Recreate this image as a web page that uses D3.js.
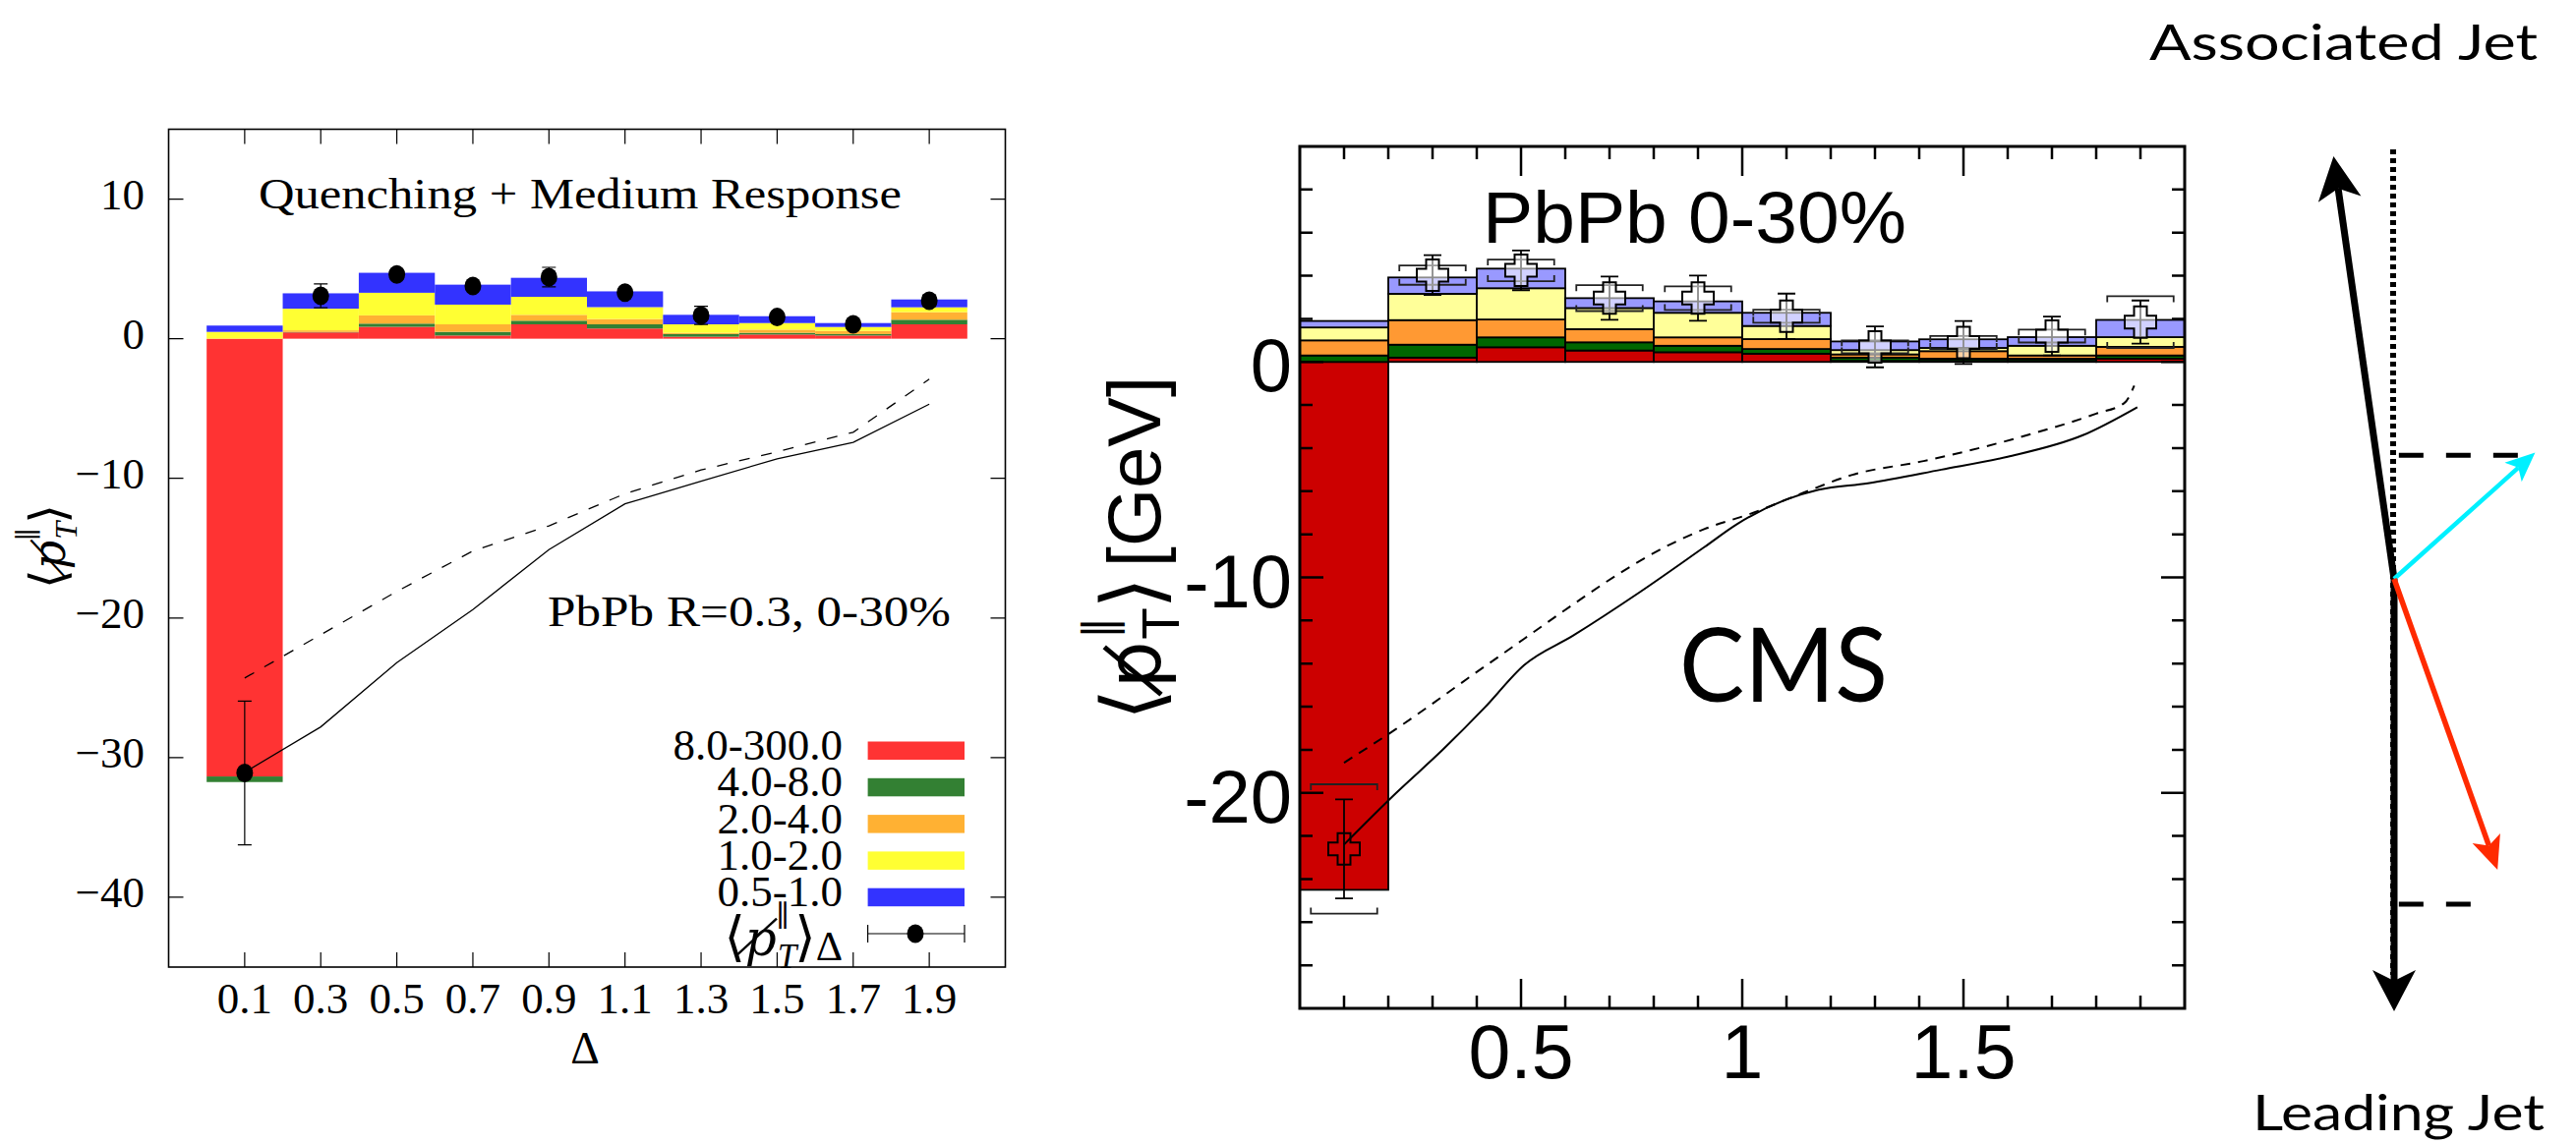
<!DOCTYPE html>
<html><head><meta charset="utf-8">
<script src="https://cdn.jsdelivr.net/npm/d3@7"></script>
<style>body{margin:0;background:#fff;} svg{display:block}</style>
</head><body>
<svg id="c" width="2620" height="1163"></svg>
<script>
// ================= DATA =================
const binCenters = [0.1,0.3,0.5,0.7,0.9,1.1,1.3,1.5,1.7,1.9];
const trackClasses = ["8.0-300.0","4.0-8.0","2.0-4.0","1.0-2.0","0.5-1.0"];

// Left panel (model: Quenching + Medium Response), contributions per track-pT class
const modelRed    = [-31.35, 0.45, 0.85, 0.23, 1.03, 0.73, 0.14, 0.30, 0.23, 1.03];
const modelGreen  = [-0.40, 0.03, 0.23, 0.26, 0.26, 0.30, 0.19, 0.12, 0.10, 0.33];
const modelOrange = [0.00, 0.12, 0.59, 0.54, 0.42, 0.38, 0.09, 0.23, 0.23, 0.54];
const modelYellow = [0.49, 1.55, 1.62, 1.41, 1.29, 0.85, 0.61, 0.47, 0.28, 0.35];
const modelBlue   = [0.45, 1.10, 1.43, 1.43, 1.36, 1.13, 0.68, 0.49, 0.28, 0.56];
const modelTotal  = [-31.1, 3.07, 4.60, 3.78, 4.41, 3.30, 1.67, 1.55, 1.03, 2.72];
const modelErr    = [5.15, 0.85, 0.35, 0.30, 0.70, 0.30, 0.65, 0.30, 0.30, 0.40];
const modelSolid  = [-31.05, -27.8, -23.2, -19.4, -15.1, -11.83, -10.2, -8.6, -7.42, -4.69];
const modelDashed = [-24.3, -21.2, -18.1, -15.2, -13.4, -11.1, -9.4, -8.1, -6.7, -2.9];
const leftYTicks = [10, 0, -10, -20, -30, -40];

// Middle panel (CMS data)
const cmsRed    = [-24.5, 0.20, 0.68, 0.53, 0.45, 0.38, 0.05, 0.05, 0.05, 0.15];
const cmsGreen  = [0.30, 0.60, 0.46, 0.38, 0.30, 0.22, 0.15, 0.10, 0.10, 0.15];
const cmsOrange = [0.70, 1.14, 0.83, 0.61, 0.39, 0.46, 0.15, 0.35, 0.15, 0.40];
const cmsYellow = [0.60, 1.22, 1.45, 0.98, 1.14, 0.61, 0.20, 0.15, 0.45, 0.45];
const cmsBlue   = [0.30, 0.76, 0.91, 0.46, 0.53, 0.61, 0.40, 0.40, 0.40, 0.80];
const cmsTotal  = [-22.6, 4.03, 4.25, 2.96, 2.96, 2.12, 0.70, 0.90, 1.20, 1.85];
const cmsStat   = [2.3, 0.92, 0.92, 1.0, 1.05, 1.05, 0.95, 1.0, 0.9, 1.0];
const cmsSys    = [3.0, 0.45, 0.5, 0.6, 0.55, 0.3, 0.3, 0.3, 0.3, 1.2];
const cmsSolidX = [0.1, 0.218, 0.322, 0.418, 0.507, 0.618, 0.766, 0.914, 0.988, 1.099, 1.173, 1.284, 1.45, 1.6, 1.77, 1.893];
const cmsSolidY = [-22.4, -20.0, -18.02, -16.04, -14.07, -12.7, -10.72, -8.6, -7.53, -6.39, -5.93, -5.63, -5.0, -4.4, -3.4, -2.1];
const cmsDashedX = [0.1, 0.218, 0.396, 0.507, 0.618, 0.729, 0.84, 0.914, 1.025, 1.136, 1.247, 1.41, 1.644, 1.8, 1.864, 1.886];
const cmsDashedY = [-18.6, -17.03, -14.45, -12.85, -11.25, -9.73, -8.44, -7.76, -7.0, -6.09, -5.25, -4.6, -3.4, -2.4, -1.9, -1.1];
const cmsYLabels = [0, -10, -20];
const cmsXLabels = [0.5, 1, 1.5];

// Right panel: jet / track vectors (diagram units)
const vecNames = ["associated", "leading", "trackA", "trackB"];
const vecX = [-0.14, 0.0, 0.326, 0.239];
const vecY = [0.977, -1.0, 0.292, -0.673];
const projY = [0.286, -0.752];
const projX = [0.288, 0.223];

// ================= STYLE =================
const serif = "'Liberation Serif','DejaVu Serif',serif";
const sans = "'Liberation Sans',Arial,'DejaVu Sans',sans-serif";
const gill = "Lato,'Open Sans',sans-serif";
const modelColors = ["#ff3333", "#338033", "#ffb133", "#ffff33", "#3333ff"];
const cmsColors = ["#cc0000", "#006600", "#ff9933", "#ffff99", "#9999ff"];

const svg = d3.select("#c");

function stackRows(comps) {
  const rows = binCenters.map((c, i) => {
    const r = {c};
    trackClasses.forEach((k, j) => r[k] = comps[j][i]);
    return r;
  });
  return d3.stack().keys(trackClasses).offset(d3.stackOffsetDiverging)(rows);
}

function pTLabel(t, size, italic, withDelta, pFamily) {
  const st = italic ? "italic" : "normal";
  t.append("tspan").style("font-size", (size * 1.1) + "px").text("⟨");
  t.append("tspan").style("font-style", st).style("font-family", pFamily).text("p\u0338");
  t.append("tspan").style("font-style", st).style("font-size", (size * 0.7) + "px")
    .attr("dx", size * 0.02).attr("dy", size * 0.25).text("T");
  t.append("tspan").style("font-size", (size * 0.6) + "px")
    .attr("dx", -size * 0.42).attr("dy", -size * 0.85).text("∥");
  t.append("tspan").style("font-size", (size * 1.1) + "px").attr("dx", size * 0.1).attr("dy", size * 0.6).text("⟩");
  if (withDelta) t.append("tspan").style("font-size", (size * 0.85) + "px").attr("dy", size * 0.1).text("Δ");
}

// ================= LEFT PANEL =================
{
  const x = d3.scaleLinear().domain([-0.1, 2.1]).range([171.5, 1022.5]);
  const y = d3.scaleLinear().domain([-45, 15]).range([984, 131.5]);
  const g = svg.append("g");
  const series = stackRows([modelRed, modelGreen, modelOrange, modelYellow, modelBlue]);
  series.forEach((s, j) => {
    g.selectAll(null).data(s).join("rect")
      .attr("x", d => x(d.data.c - 0.1))
      .attr("width", d => x(d.data.c + 0.1) - x(d.data.c - 0.1))
      .attr("y", d => y(Math.max(d[0], d[1])))
      .attr("height", d => Math.abs(y(d[0]) - y(d[1])))
      .attr("fill", modelColors[j]);
  });
  const line = d3.line().x(d => x(d[0])).y(d => y(d[1]));
  g.append("path").attr("d", line(d3.zip(binCenters, modelSolid)))
    .attr("fill", "none").attr("stroke", "#000").attr("stroke-width", 1.3);
  g.append("path").attr("d", line(d3.zip(binCenters, modelDashed)))
    .attr("fill", "none").attr("stroke", "#000").attr("stroke-width", 1.3).attr("stroke-dasharray", "11,12");
  binCenters.forEach((c, i) => {
    const cx = x(c), y1 = y(modelTotal[i] + modelErr[i]), y2 = y(modelTotal[i] - modelErr[i]);
    g.append("path").attr("d", `M${cx},${y1}V${y2}M${cx-7},${y1}H${cx+7}M${cx-7},${y2}H${cx+7}`)
      .attr("stroke", "#000").attr("stroke-width", 1.2).attr("fill", "none");
    g.append("ellipse").attr("cx", cx).attr("cy", y(modelTotal[i])).attr("rx", 8.5).attr("ry", 9.5).attr("fill", "#000");
  });
  g.append("rect").attr("x", x(-0.1)).attr("y", y(15)).attr("width", x(2.1) - x(-0.1)).attr("height", y(-45) - y(15))
    .attr("fill", "none").attr("stroke", "#000").attr("stroke-width", 1.6);
  binCenters.forEach(c => {
    g.append("path").attr("d", `M${x(c)},${y(15)}v15M${x(c)},${y(-45)}v-15`).attr("stroke", "#000").attr("stroke-width", 1.2);
  });
  leftYTicks.forEach(v => {
    g.append("path").attr("d", `M${x(-0.1)},${y(v)}h15M${x(2.1)},${y(v)}h-15`).attr("stroke", "#000").attr("stroke-width", 1.2);
  });
  const fy = d3.format("");
  g.selectAll(null).data(leftYTicks).join("text")
    .attr("x", 147).attr("y", d => y(d) + 10).attr("text-anchor", "end")
    .style("font-family", serif).style("font-size", "45px").text(d => fy(d));
  g.selectAll(null).data(binCenters).join("text")
    .attr("x", d => x(d)).attr("y", 1031).attr("text-anchor", "middle")
    .style("font-family", serif).style("font-size", "45px").text(d => d3.format(".1f")(d));
  g.append("text").attr("x", 595).attr("y", 1082).attr("text-anchor", "middle")
    .style("font-family", serif).style("font-size", "46px").text("Δ");
  g.append("text").attr("x", 263).attr("y", 212).attr("textLength", 654).attr("lengthAdjust", "spacingAndGlyphs")
    .style("font-family", serif).style("font-size", "45px").text("Quenching + Medium Response");
  g.append("text").attr("x", 557).attr("y", 637).attr("textLength", 410).attr("lengthAdjust", "spacingAndGlyphs")
    .style("font-family", serif).style("font-size", "45px").text("PbPb R=0.3, 0-30%");
  const yl = g.append("text").attr("transform", "translate(66,556) rotate(-90)").attr("text-anchor", "middle")
    .style("font-family", serif).style("font-size", "46px");
  pTLabel(yl, 46, true, false, "'DejaVu Serif',serif");
  // legend
  trackClasses.forEach((k, j) => {
    const by = 773 + j * 37.3;
    g.append("text").attr("x", 857).attr("y", by).attr("text-anchor", "end")
      .style("font-family", serif).style("font-size", "45px").text(k);
    g.append("rect").attr("x", 882.6).attr("y", by - 18.5).attr("width", 98.4).attr("height", 18.5)
      .attr("fill", modelColors[j]);
  });
  const ly = 950;
  g.append("path").attr("d", `M882.6,${ly}H981M882.6,${ly-9}v18M981,${ly-9}v18`).attr("stroke", "#000").attr("stroke-width", 1.2);
  g.append("ellipse").attr("cx", 931).attr("cy", ly).attr("rx", 8.5).attr("ry", 9.5).attr("fill", "#000");
  const ll = g.append("text").attr("x", 857).attr("y", 972).attr("text-anchor", "end")
    .style("font-family", serif).style("font-size", "50px");
  pTLabel(ll, 50, true, true, "'DejaVu Serif',serif");
}

// ================= MIDDLE PANEL (CMS) =================
{
  const x = d3.scaleLinear().domain([0, 2]).range([1322, 2222]);
  const y = d3.scaleLinear().domain([-30, 10]).range([1026, 149]);
  const g = svg.append("g");
  const series = stackRows([cmsRed, cmsGreen, cmsOrange, cmsYellow, cmsBlue]);
  series.forEach((s, j) => {
    g.selectAll(null).data(s.filter(d => d[0] !== d[1])).join("rect")
      .attr("x", d => x(d.data.c - 0.1))
      .attr("width", d => x(d.data.c + 0.1) - x(d.data.c - 0.1))
      .attr("y", d => y(Math.max(d[0], d[1])))
      .attr("height", d => Math.abs(y(d[0]) - y(d[1])))
      .attr("fill", cmsColors[j]).attr("stroke", "#000").attr("stroke-width", 1.8);
  });
  const line = d3.line().x(d => x(d[0])).y(d => y(d[1])).curve(d3.curveMonotoneX);
  g.append("path").attr("d", line(d3.zip(cmsSolidX, cmsSolidY)))
    .attr("fill", "none").attr("stroke", "#000").attr("stroke-width", 2);
  g.append("path").attr("d", line(d3.zip(cmsDashedX, cmsDashedY)))
    .attr("fill", "none").attr("stroke", "#000").attr("stroke-width", 2).attr("stroke-dasharray", "10,8");
  binCenters.forEach((c, i) => {
    const cx = x(c), cy = y(cmsTotal[i]);
    const s1 = y(cmsTotal[i] + cmsStat[i]), s2 = y(cmsTotal[i] - cmsStat[i]);
    g.append("path").attr("d", `M${cx},${s1}V${s2}M${cx-9},${s1}H${cx+9}M${cx-9},${s2}H${cx+9}`)
      .attr("stroke", "#000").attr("stroke-width", 1.8).attr("fill", "none");
    const b1 = y(cmsTotal[i] + cmsSys[i]), b2 = y(cmsTotal[i] - cmsSys[i]);
    const hw = (x(0.075) - x(0));
    g.append("path").attr("d", `M${cx-hw},${b1+6}V${b1}H${cx+hw}V${b1+6}M${cx-hw},${b2-6}V${b2}H${cx+hw}V${b2-6}`)
      .attr("stroke", "#222").attr("stroke-width", 1.8).attr("fill", "none");
    const a = 6.5, l = 16;
    g.append("path")
      .attr("d", `M${cx-a},${cy-l}H${cx+a}V${cy-a}H${cx+l}V${cy+a}H${cx+a}V${cy+l}H${cx-a}V${cy+a}H${cx-l}V${cy-a}H${cx-a}Z`)
      .attr("fill", cmsTotal[i] > 0 ? "rgba(255,255,255,0.55)" : "none")
      .attr("stroke", "#000").attr("stroke-width", 2);
  });
  g.append("rect").attr("x", x(0)).attr("y", y(10)).attr("width", x(2) - x(0)).attr("height", y(-30) - y(10))
    .attr("fill", "none").attr("stroke", "#000").attr("stroke-width", 3);
  d3.range(-28, 10, 2).forEach(v => {
    const L = v % 10 === 0 ? 24 : 13;
    g.append("path").attr("d", `M${x(0)},${y(v)}h${L}M${x(2)},${y(v)}h${-L}`).attr("stroke", "#000").attr("stroke-width", 2.5);
  });
  d3.range(1, 20).map(i => i / 10).forEach(v => {
    const L = Math.abs(v * 2 - Math.round(v * 2)) < 1e-9 ? 30 : 13;
    g.append("path").attr("d", `M${x(v)},${y(10)}v${L}M${x(v)},${y(-30)}v${-L}`).attr("stroke", "#000").attr("stroke-width", 2.5);
  });
  g.selectAll(null).data(cmsYLabels).join("text")
    .attr("x", 1314).attr("y", d => y(d) + 30).attr("text-anchor", "end")
    .style("font-family", sans).style("font-size", "76px").text(d => String(d));
  g.selectAll(null).data(cmsXLabels).join("text")
    .attr("x", d => x(d)).attr("y", 1097).attr("text-anchor", "middle")
    .style("font-family", sans).style("font-size", "77px").text(d => String(d));
  g.append("text").attr("x", 1508).attr("y", 247).attr("textLength", 431).attr("lengthAdjust", "spacingAndGlyphs")
    .style("font-family", sans).style("font-size", "74px").text("PbPb 0-30%");
  g.append("text").attr("x", 1708).attr("y", 714).attr("textLength", 212).attr("lengthAdjust", "spacingAndGlyphs")
    .style("font-family", gill).style("font-size", "104px").text("CMS");
  const yl = g.append("text").attr("transform", "translate(1180,558) rotate(-90)").attr("text-anchor", "middle")
    .style("font-family", sans).style("font-size", "76px");
  pTLabel(yl, 76, false, false, "'DejaVu Sans',sans-serif");
  yl.append("tspan").attr("dx", 10).text("[GeV]");
}

// ================= RIGHT PANEL (diagram) =================
{
  const x = d3.scaleLinear().domain([0, 1]).range([2435, 2875]);
  const y = d3.scaleLinear().domain([0, 1]).range([589, 149]);
  const g = svg.append("g");
  const styles = {
    associated: {color: "#000", w: 7, hl: 44, hw: 22, n: 11},
    leading:    {color: "#000", w: 7, hl: 42, hw: 22, n: 11},
    trackA:     {color: "#00f0ff", w: 4.5, hl: 30, hw: 13, n: 7},
    trackB:     {color: "#ff2a00", w: 5.5, hl: 34, hw: 15, n: 8}
  };
  g.append("line").attr("x1", x(0) - 1).attr("x2", x(0) - 1).attr("y1", y(0.993)).attr("y2", y(-0.916))
    .attr("stroke", "#000").attr("stroke-width", 6).attr("stroke-dasharray", "5,4");
  projY.forEach((py, i) => {
    g.append("line").attr("x1", x(0.011)).attr("x2", x(projX[i])).attr("y1", y(py)).attr("y2", y(py))
      .attr("stroke", "#000").attr("stroke-width", 5).attr("stroke-dasharray", "25,23");
  });
  vecNames.forEach((nm, i) => {
    const st = styles[nm];
    const x0 = x(0), y0 = y(0), x1 = x(vecX[i]), y1 = y(vecY[i]);
    const len = Math.hypot(x1 - x0, y1 - y0);
    const ux = (x1 - x0) / len, uy = (y1 - y0) / len, px = -uy, py = ux;
    const bx = x1 - ux * st.hl, by = y1 - uy * st.hl;
    const nx = x1 - ux * (st.hl - st.n), ny = y1 - uy * (st.hl - st.n);
    g.append("line").attr("x1", x0).attr("y1", y0).attr("x2", nx).attr("y2", ny)
      .attr("stroke", st.color).attr("stroke-width", st.w);
    g.append("path").attr("d", `M${x1},${y1}L${bx + px * st.hw},${by + py * st.hw}L${nx},${ny}L${bx - px * st.hw},${by - py * st.hw}Z`)
      .attr("fill", st.color);
  });
  g.append("text").attr("x", 2186).attr("y", 61).attr("textLength", 395).attr("lengthAdjust", "spacingAndGlyphs")
    .style("font-family", gill).style("font-size", "50px").text("Associated Jet");
  g.append("text").attr("x", 2291).attr("y", 1150).attr("textLength", 297).attr("lengthAdjust", "spacingAndGlyphs")
    .style("font-family", gill).style("font-size", "50px").text("Leading Jet");
}
</script>
</body></html>
